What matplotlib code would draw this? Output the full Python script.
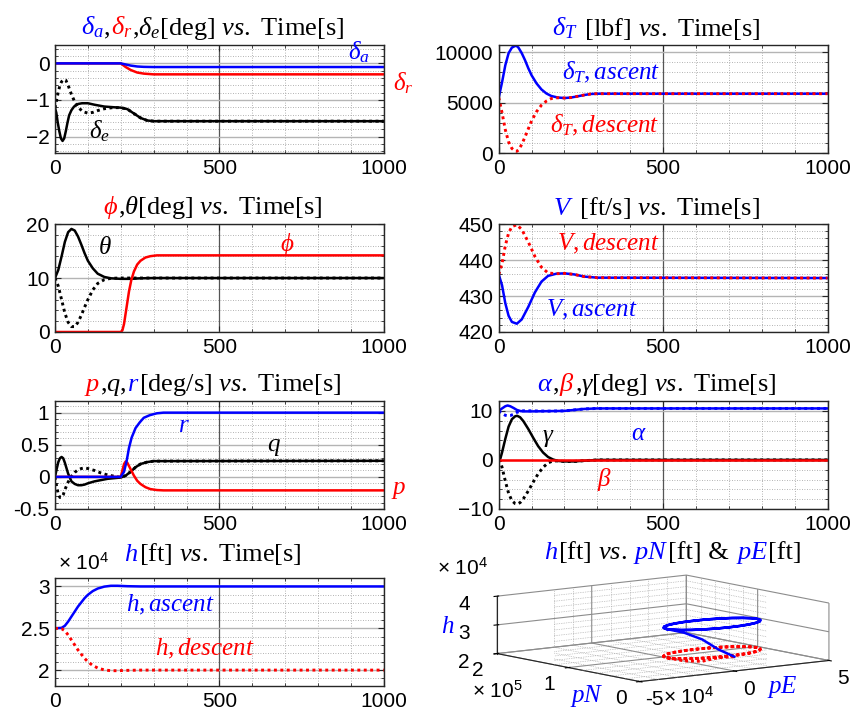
import numpy as np
import matplotlib
matplotlib.use("Agg")
from matplotlib import pyplot as plt
from matplotlib.ticker import MultipleLocator, FuncFormatter
from matplotlib.offsetbox import TextArea, HPacker, AnchoredOffsetbox

plt.rcParams['font.family'] = ['Liberation Sans', 'DejaVu Sans']
plt.rcParams['mathtext.fontset'] = 'custom'
plt.rcParams['mathtext.rm'] = 'Liberation Serif'
plt.rcParams['mathtext.it'] = 'Liberation Serif:italic'
plt.rcParams['mathtext.sf'] = 'Liberation Sans'

# --- control surfaces (deg) ---
t_de_asc = [0, 4, 8, 13, 18, 23, 28, 33, 38, 43, 50, 58, 70, 82, 100, 120, 150, 180, 200, 220, 240, 260, 280, 300, 1000]
de_asc = [-1.22, -1.35, -1.6, -1.85, -2.05, -2.12, -2.05, -1.85, -1.62, -1.42, -1.28, -1.18, -1.11, -1.09, -1.09,
          -1.13, -1.18, -1.2, -1.21, -1.25, -1.37, -1.49, -1.56, -1.58, -1.58]
t_de_desc = [0, 5, 10, 15, 20, 27, 33, 40, 50, 60, 70, 85, 100, 115, 130, 150, 175, 200, 220, 240, 260, 280, 300, 1000]
de_desc = [-1.22, -1.0, -0.78, -0.6, -0.5, -0.44, -0.46, -0.6, -0.85, -1.05, -1.2, -1.32, -1.36, -1.34, -1.29,
           -1.24, -1.21, -1.21, -1.25, -1.37, -1.49, -1.56, -1.58, -1.58]
t_ail = [0, 200, 215, 230, 250, 270, 300, 1000]
da = [0, 0, -0.03, -0.06, -0.085, -0.095, -0.1, -0.1]
dr = [0, 0, -0.1, -0.18, -0.25, -0.28, -0.3, -0.3]

# --- thrust (lbf) ---
t_T = [0, 10, 20, 30, 40, 50, 55, 60, 70, 80, 90, 100, 115, 130, 145, 160, 180, 200, 220, 240, 260, 280, 300, 1000]
T_asc = [5500, 7000, 8700, 9900, 10450, 10620, 10600, 10450, 9900, 9200, 8400, 7700, 6900, 6300, 5900, 5650,
         5500, 5450, 5500, 5620, 5750, 5850, 5880, 5880]
T_desc = [5500, 4000, 2300, 1100, 450, 180, 170, 300, 850, 1600, 2400, 3200, 4100, 4750, 5150, 5400,
          5480, 5450, 5500, 5620, 5750, 5850, 5880, 5880]

# --- attitude (deg) ---
t_th = [0, 10, 20, 30, 40, 50, 60, 70, 80, 90, 100, 115, 130, 150, 170, 200, 230, 260, 300, 1000]
th_asc = [10, 11.5, 14, 16.7, 18.5, 19.1, 18.8, 17.7, 16.2, 14.6, 13.2, 11.8, 10.8, 10.2, 9.95, 9.85, 9.85, 9.95, 10.0, 10.0]
th_desc = [10, 8.5, 6, 3.5, 1.8, 1.0, 1.0, 1.8, 3.1, 4.6, 6.0, 7.8, 9.0, 9.7, 9.95, 10.0, 10.0, 10.0, 10.0, 10.0]
t_phi = [0, 200, 205, 210, 218, 225, 232, 240, 250, 260, 275, 290, 310, 330, 1000]
phi = [0, 0, 0.3, 1.5, 4.7, 7.5, 9.6, 11.2, 12.5, 13.2, 13.8, 14.05, 14.2, 14.2, 14.2]

# --- airspeed (ft/s) ---
t_V = [0, 10, 20, 30, 40, 55, 70, 90, 110, 130, 150, 175, 200, 230, 260, 300, 1000]
V_asc = [436, 433, 428, 424.5, 422.8, 422.3, 423.5, 427, 431, 434, 435.6, 436.2, 436.3, 436.0, 435.4, 435.1, 435.0]
V_desc = [436, 439, 444, 447.5, 449.3, 449.8, 448.5, 445, 441, 438, 436.4, 436.2, 436.3, 436.0, 435.4, 435.1, 435.0]

# --- body rates (deg/s) ---
t_q = [0, 5, 10, 15, 20, 25, 30, 40, 50, 60, 70, 80, 90, 100, 120, 140, 160, 180, 200, 215, 230, 245, 260, 280, 300, 1000]
q_asc = [0, 0.12, 0.23, 0.29, 0.31, 0.29, 0.22, 0.05, -0.07, -0.11, -0.13, -0.13, -0.12, -0.1, -0.07, -0.05,
         -0.03, -0.02, -0.01, 0.02, 0.08, 0.15, 0.2, 0.23, 0.245, 0.25]
q_desc = [0, -0.15, -0.27, -0.32, -0.32, -0.28, -0.2, -0.08, 0.01, 0.07, 0.11, 0.13, 0.14, 0.13, 0.1, 0.06,
          0.03, 0.01, -0.01, 0.02, 0.08, 0.15, 0.2, 0.23, 0.245, 0.25]
t_p = [0, 200, 205, 210, 215, 220, 230, 240, 250, 260, 275, 290, 310, 330, 1000]
p_rate = [0, 0, 0.1, 0.2, 0.24, 0.22, 0.12, 0.02, -0.06, -0.11, -0.16, -0.19, -0.205, -0.21, -0.21]
t_r = [0, 200, 210, 218, 225, 233, 245, 258, 270, 288, 310, 330, 1000]
r_rate = [0, 0, 0.08, 0.25, 0.45, 0.61, 0.76, 0.85, 0.92, 0.96, 0.99, 1.0, 1.0]

# --- aero angles (deg) ---
t_al = [0, 10, 20, 27, 35, 45, 55, 67, 80, 100, 150, 200, 230, 260, 300, 1000]
al_asc = [10.0, 10.5, 10.95, 11.1, 10.95, 10.6, 10.2, 9.95, 9.9, 9.9, 9.95, 10.0, 10.2, 10.4, 10.5, 10.5]
al_desc = [10.0, 9.5, 9.1, 9.0, 9.05, 9.3, 9.7, 9.95, 10.05, 10.0, 9.95, 10.0, 10.2, 10.4, 10.5, 10.5]
t_ga = [0, 5, 10, 20, 30, 40, 50, 56, 65, 75, 90, 105, 120, 135, 150, 165, 180, 200, 230, 260, 300, 1000]
ga_asc = [0, 0.3, 1.5, 4.3, 6.8, 8.3, 8.9, 9.0, 8.7, 7.9, 6.3, 4.5, 2.8, 1.5, 0.6, 0.1, -0.2, -0.3, -0.3, -0.15, 0, 0]
ga_desc = [0, -0.3, -1.5, -4.3, -6.8, -8.3, -8.9, -9.0, -8.7, -7.9, -6.3, -4.5, -2.8, -1.5, -0.6, -0.2, -0.2, -0.3, -0.3, -0.15, 0, 0]
t_be = [0, 1000]
beta = [0, 0]

# --- altitude (ft) ---
t_h = [0, 20, 30, 40, 50, 60, 70, 80, 90, 100, 115, 130, 150, 170, 190, 220, 260, 300, 1000]
h_asc = [25000, 25050, 25300, 25800, 26400, 27000, 27600, 28100, 28600, 29000, 29450, 29750, 29980, 30080,
         30080, 30030, 30000, 30000, 30000]
h_desc = [25000, 24950, 24700, 24200, 23600, 23000, 22400, 21900, 21400, 21000, 20550, 20250, 20020, 19930,
          19930, 19970, 20000, 20000, 20000]

# --- 3D track (ft): straight leg then the turn loop ---
pE_leg = [0, 0, 0, 0, 0]
pN_leg = [0, 22000, 45000, 70000, 95000]
h_leg_asc = [25000, 26400, 28800, 29900, 30000]
h_leg_desc = [25000, 23600, 21200, 20100, 20000]
pE_loop = [800, 3200, 7000, 12000, 17800, 24000, 30200, 36000, 41000, 44800, 47200, 48000,
           47200, 44800, 41000, 36000, 30200, 24000, 17800, 12000, 7000, 3200, 800, 0]
pN_loop = [101200, 107000, 112000, 115800, 118200, 119000, 118200, 115800, 112000, 107000, 101200, 95000,
           88800, 83000, 78000, 74200, 71800, 71000, 71800, 74200, 78000, 83000, 88800, 95000]

BLUE, RED, BLACK = '#0000ff', '#ff0000', '#000000'
DOT = (0, (1, 1.2))
LW = 1.8
SERIF = 'Liberation Serif'
TSIZE = 19
ASIZE = 18
KSIZE = 15


def colored_title(ax, parts, x=0.48, y=1.03, size=TSIZE, transform=None):
    boxes = [TextArea(s, textprops=dict(color=c, fontsize=size, fontfamily=SERIF)) for s, c in parts]
    pack = HPacker(children=boxes, align='baseline', pad=0, sep=0)
    box = AnchoredOffsetbox(loc='lower center', child=pack, pad=0, borderpad=0, frameon=False,
                            bbox_to_anchor=(x, y),
                            bbox_transform=transform if transform is not None else ax.transAxes)
    ax.add_artist(box)


def style(ax, ylim, yticks, yminor):
    ax.set_xlim(0, 1000)
    ax.set_xticks([0, 500, 1000])
    ax.xaxis.set_minor_locator(MultipleLocator(100))
    ax.set_ylim(ylim)
    ax.set_yticks(yticks)
    ax.yaxis.set_minor_locator(MultipleLocator(yminor))
    ax.grid(which='minor', linestyle=(0, (1, 2)), color='#9a9a9a', linewidth=0.6)
    ax.grid(which='major', axis='y', color='#b4b4b4', linewidth=1.0)
    ax.grid(which='major', axis='x', color='#555555', linewidth=0.9)
    ax.set_axisbelow(True)
    ax.tick_params(which='both', direction='in', top=True, right=True, labelsize=KSIZE, pad=4,
                   color='#262626')
    ax.tick_params(which='major', length=4)
    ax.tick_params(which='minor', length=2)
    for s in ax.spines.values():
        s.set_color('#262626')
        s.set_linewidth(1.0)


def label(ax, x, y, s, color, size=ASIZE):
    ax.text(x, y, s, color=color, fontsize=size, fontfamily=SERIF, ha='center', va='center',
            clip_on=False)


fig = plt.figure(figsize=(8.54, 7.10), dpi=100)
L, R, W = 0.0644, 0.584, 0.385
H = 0.152
rows = [0.7845, 0.5324, 0.2831, 0.0338]

# row 1 left
ax = fig.add_axes([L, rows[0], W, H])
ax.plot(t_de_desc, de_desc, color=BLACK, ls=DOT, lw=LW + 0.3)
ax.plot(t_de_asc, de_asc, color=BLACK, lw=LW)
ax.plot(t_ail, dr, color=RED, lw=LW)
ax.plot(t_ail, da, color=BLUE, lw=LW)
style(ax, (-2.45, 0.5), [-2, -1, 0], 0.2)
colored_title(ax, [(r'$\delta_a$', BLUE), (',', BLACK), (r'$\delta_r$', RED),
                   (r',$\delta_e$[deg] $vs.$ Time[s]', BLACK)])
label(ax, 925, 0.3, r'$\delta_a$', BLUE)
label(ax, 1060, -0.55, r'$\delta_r$', RED)
label(ax, 134, -1.86, r'$\delta_e$', BLACK)

# row 1 right
ax = fig.add_axes([R, rows[0], W, H])
ax.plot(t_T, T_asc, color=BLUE, lw=LW)
ax.plot(t_T, T_desc, color=RED, ls=DOT, lw=LW + 0.3)
style(ax, (0, 10700), [0, 5000, 10000], 1000)
colored_title(ax, [(r'$\delta_T$', BLUE), (' [lbf] $vs.$ Time[s]', BLACK)])
label(ax, 341, 8000, r'$\delta_T,ascent$', BLUE)
label(ax, 323, 2700, r'$\delta_T,descent$', RED)

# row 2 left
ax = fig.add_axes([L, rows[1], W, H])
ax.plot(t_th, th_desc, color=BLACK, ls=DOT, lw=LW + 0.3)
ax.plot(t_th, th_asc, color=BLACK, lw=LW)
ax.plot(t_phi, phi, color=RED, lw=LW)
style(ax, (0, 20), [0, 10, 20], 2)
colored_title(ax, [(r'$\phi$', RED), (r',$\theta$[deg] $vs.$ Time[s]', BLACK)])
label(ax, 152, 15.6, r'$\theta$', BLACK)
label(ax, 705, 16.2, r'$\phi$', RED)

# row 2 right
ax = fig.add_axes([R, rows[1], W, H])
ax.plot(t_V, V_asc, color=BLUE, lw=LW)
ax.plot(t_V, V_desc, color=RED, ls=DOT, lw=LW + 0.3)
style(ax, (420, 450), [420, 430, 440, 450], 2)
colored_title(ax, [(r'$V$', BLUE), (' [ft/s] $vs.$ Time[s]', BLACK)])
label(ax, 332, 444.5, r'$V,descent$', RED)
label(ax, 284, 426, r'$V,ascent$', BLUE)

# row 3 left
ax = fig.add_axes([L, rows[2], W, H])
ax.plot(t_q, q_desc, color=BLACK, ls=DOT, lw=LW + 0.3)
ax.plot(t_q, q_asc, color=BLACK, lw=LW)
ax.plot(t_p, p_rate, color=RED, lw=LW)
ax.plot(t_r, r_rate, color=BLUE, lw=LW)
style(ax, (-0.5, 1.18), [-0.5, 0, 0.5, 1], 0.1)
ax.yaxis.set_major_formatter(FuncFormatter(lambda v, _: f'{v:g}'))
colored_title(ax, [(r'$p$', RED), (r',$q$,', BLACK), (r'$r$', BLUE), ('[deg/s] $vs.$ Time[s]', BLACK)])
label(ax, 392, 0.79, r'$r$', BLUE)
label(ax, 666, 0.47, r'$q$', BLACK)
label(ax, 1045, -0.21, r'$p$', RED)

# row 3 right
ax = fig.add_axes([R, rows[2], W, H])
ax.plot(t_ga, ga_desc, color=BLACK, ls=DOT, lw=LW + 0.3)
ax.plot(t_ga, ga_asc, color=BLACK, lw=LW)
ax.plot(t_be, beta, color=RED, lw=LW)
ax.plot(t_al, al_desc, color=BLUE, ls=DOT, lw=LW + 0.3)
ax.plot(t_al, al_asc, color=BLUE, lw=LW)
style(ax, (-10, 12), [-10, 0, 10], 2)
colored_title(ax, [(r'$\alpha$', BLUE), (',', BLACK), (r'$\beta$', RED), (r',$\gamma$[deg] $vs.$ Time[s]', BLACK)])
label(ax, 150, 4.5, r'$\gamma$', BLACK)
label(ax, 426, 5.3, r'$\alpha$', BLUE)
label(ax, 320, -3.9, r'$\beta$', RED)

# row 4 left
ax = fig.add_axes([L, rows[3], W, H])
ax.plot(t_h, h_asc, color=BLUE, lw=LW)
ax.plot(t_h, h_desc, color=RED, ls=DOT, lw=LW + 0.3)
style(ax, (18100, 31000), [20000, 25000, 30000], 1000)
ax.yaxis.set_major_formatter(FuncFormatter(lambda v, _: f'{v / 1e4:g}'))
ax.text(0.01, 1.04, r'× $\mathsf{10^{4}}$', transform=ax.transAxes, fontsize=KSIZE, va='bottom')
colored_title(ax, [(r'$h$', BLUE), ('[ft] $vs.$ Time[s]', BLACK)], y=1.1)
label(ax, 352, 27770, r'$h,ascent$', BLUE)
label(ax, 456, 22540, r'$h,descent$', RED)

# row 4 right: 3D track
ax3 = fig.add_axes([0.548, -0.039, 0.45, 0.3], projection='3d', computed_zorder=False)
ax3.set_facecolor((1, 1, 1, 0))
pE_asc = pE_leg + pE_loop + pE_loop
pN_asc = pN_leg + pN_loop + pN_loop
h_asc3 = h_leg_asc + [30000] * (2 * len(pE_loop))
h_desc3 = h_leg_desc + [20000] * (2 * len(pE_loop))

# dotted minor grid on the back walls and floor
gk = dict(color='#a0a0a0', lw=0.5, ls=(0, (1, 1.5)), zorder=0.5)
for v in np.arange(-4e4, 5e4, 1e4):
    if v == 0:
        continue
    ax3.plot([v, v], [2e5, 2e5], [2e4, 4e4], **gk)
    ax3.plot([v, v], [0, 2e5], [2e4, 2e4], **gk)
for v in np.arange(2e4, 2e5, 2e4):
    if v == 1e5:
        continue
    ax3.plot([5e4, 5e4], [v, v], [2e4, 4e4], **gk)
    ax3.plot([-5e4, 5e4], [v, v], [2e4, 2e4], **gk)
for v in np.arange(2.2e4, 4e4, 2e3):
    if v == 3e4:
        continue
    ax3.plot([-5e4, 5e4], [2e5, 2e5], [v, v], **gk)
    ax3.plot([5e4, 5e4], [0, 2e5], [v, v], **gk)

ax3.plot(pE_asc, pN_asc, h_desc3, color=RED, ls=(0, (1, 1)), lw=LW + 0.3, zorder=3)
ax3.plot(pE_asc, pN_asc, h_asc3, color=BLUE, lw=LW, zorder=4)
ax3.set_xlim(-5e4, 5e4)
ax3.set_ylim(0, 2e5)
ax3.set_zlim(2e4, 4e4)
ax3.set_xticks([-5e4, 0, 5e4])
ax3.set_yticks([0, 1e5, 2e5])
ax3.set_zticks([2e4, 3e4, 4e4])
ax3.xaxis.set_major_formatter(FuncFormatter(lambda v, _: f'{v / 1e4:g}'))
ax3.yaxis.set_major_formatter(FuncFormatter(lambda v, _: f'{v / 1e5:g}'))
ax3.zaxis.set_major_formatter(FuncFormatter(lambda v, _: f'{v / 1e4:g}'))
ax3.view_init(elev=8.5, azim=-127)
ax3.set_proj_type('ortho')
ax3.set_box_aspect((1, 1, 0.245), zoom=1.55)
for a in (ax3.xaxis, ax3.yaxis, ax3.zaxis):
    a.set_pane_color((1, 1, 1, 0))
    a._axinfo['grid']['color'] = '#8c8c8c'
    a._axinfo['grid']['linewidth'] = 0.8
    a.line.set_color('#262626')
ax3.tick_params(labelsize=KSIZE, pad=0)
colored_title(ax3, [(r'$h$', BLUE), ('[ft] $vs.$ ', BLACK), (r'$pN$', BLUE), ('[ft] & ', BLACK),
                    (r'$pE$', BLUE), ('[ft]', BLACK)], x=0.788, y=0.203, transform=fig.transFigure)
fig.text(0.524, 0.117, r'$h$', color=BLUE, fontsize=ASIZE, ha='center', va='center', fontfamily=SERIF)
fig.text(0.687, 0.02, r'$pN$', color=BLUE, fontsize=ASIZE, ha='center', va='center', fontfamily=SERIF)
fig.text(0.916, 0.033, r'$pE$', color=BLUE, fontsize=ASIZE, ha='center', va='center', fontfamily=SERIF)
fig.text(0.512, 0.2, r'× $\mathsf{10^{4}}$', fontsize=KSIZE, va='center')
fig.text(0.553, 0.027, r'× $\mathsf{10^{5}}$', fontsize=KSIZE, va='center')
fig.text(0.776, 0.018, r'× $\mathsf{10^{4}}$', fontsize=KSIZE, va='center')

fig.savefig('out.png', dpi=100)
